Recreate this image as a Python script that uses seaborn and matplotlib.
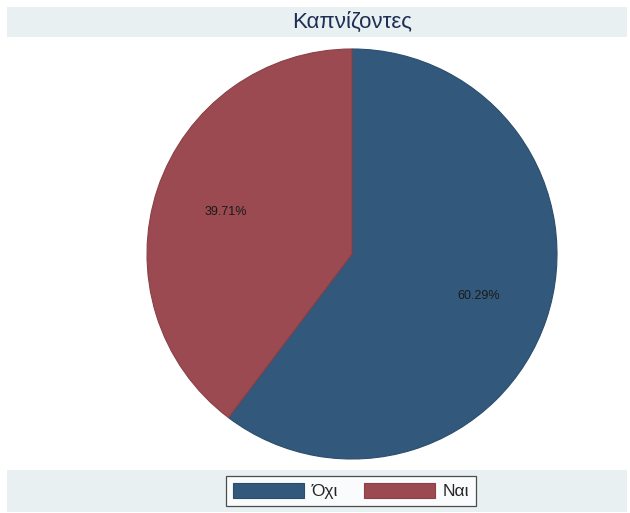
import matplotlib
matplotlib.use("Agg")
import matplotlib.pyplot as plt
from matplotlib.patches import Rectangle
import seaborn as sns

title = "Καπνίζοντες"
categories = ["Όχι", "Ναι"]
percentages = [60.29, 39.71]
colors = ["#32587c", "#9a4a50"]
edge_colors = ["#2b4d6c", "#8a4046"]

sns.set_theme(style="white")
plt.rcParams["font.family"] = ["Liberation Sans", "DejaVu Sans"]

W, H = 630, 513
fig = plt.figure(figsize=(W / 100, H / 100), dpi=100)
fig.patch.set_facecolor("white")

band = "#e9f0f2"
# title band
fig.patches.append(Rectangle((7 / W, 1 - 37 / H), 620 / W, 30 / H,
                             transform=fig.transFigure, facecolor=band,
                             edgecolor="none", zorder=0))
fig.text(352 / W, 1 - 22 / H, title, ha="center", va="center",
         fontsize=16, color="#1e2f55")
# legend band
fig.patches.append(Rectangle((7 / W, 1 - 512 / H), 620 / W, 42 / H,
                             transform=fig.transFigure, facecolor=band,
                             edgecolor="none", zorder=0))

cx, cy, r = 352, 254, 205
ax = fig.add_axes([(cx - r) / W, 1 - (cy + r) / H, 2 * r / W, 2 * r / H])
wedges, texts, autotexts = ax.pie(
    percentages, colors=colors, startangle=90, counterclock=False,
    autopct=lambda p: f"{p:.2f}%", pctdistance=0.65, radius=1,
    wedgeprops=dict(linewidth=0.8),
    textprops=dict(fontsize=9, color="#1a1a1a"))
for w, ec in zip(wedges, edge_colors):
    w.set_edgecolor(ec)
ax.set_xlim(-1.0, 1.0)
ax.set_ylim(-1.0, 1.0)
ax.set_aspect("equal")
ax.axis("off")

leg = fig.legend(wedges, categories, loc="center",
                 bbox_to_anchor=(351 / W, 1 - 491 / H), ncol=2,
                 frameon=True, fancybox=False, fontsize=12.5,
                 handlelength=4.1, handleheight=0.95, columnspacing=1.5,
                 handletextpad=0.45, borderpad=0.4, borderaxespad=0)
leg.get_frame().set_edgecolor("#222222")
leg.get_frame().set_linewidth(0.9)
leg.get_frame().set_facecolor("white")

fig.savefig("out.png", dpi=100, facecolor="white")
